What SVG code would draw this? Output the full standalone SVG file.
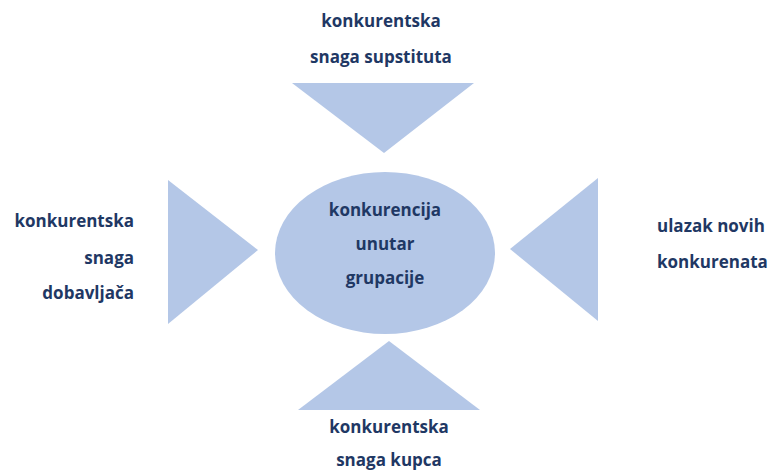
<svg xmlns="http://www.w3.org/2000/svg" width="770" height="471" viewBox="0 0 770 471">
<style>
.s{fill:#B4C7E7;stroke:none}
.t{font-family:"Open Sans","Liberation Sans",sans-serif;font-weight:700;font-size:17px;fill:#1F3864}
.m{text-anchor:middle}
.e{text-anchor:end}
</style>
<rect width="770" height="471" fill="#ffffff"/>
<g id="connectors">
<polygon id="arrow-top" class="s" points="292,83 474,83 384,153"/>
<polygon id="arrow-left" class="s" points="168,180 168,324 258,250"/>
<polygon id="arrow-right" class="s" points="598,178 598,321 510,249"/>
<polygon id="arrow-bottom" class="s" points="298,410 480,410 389,341"/>
</g>
<g id="center">
<ellipse class="s" cx="385" cy="253" rx="110" ry="81"/>
<text class="t m" x="385" y="216">konkurencija</text>
<text class="t m" x="385" y="250">unutar</text>
<text class="t m" x="385" y="284">grupacije</text>
</g>
<g id="top">
<text class="t m" x="381" y="27">konkurentska</text>
<text class="t m" x="381" y="63">snaga supstituta</text>
</g>
<g id="left">
<text class="t e" x="134" y="227">konkurentska</text>
<text class="t e" x="134" y="264">snaga</text>
<text class="t e" x="134" y="299">dobavljača</text>
</g>
<g id="right">
<text class="t" x="657" y="232">ulazak novih</text>
<text class="t" x="657" y="268">konkurenata</text>
</g>
<g id="bottom">
<text class="t m" x="389" y="433">konkurentska</text>
<text class="t m" x="389" y="466">snaga kupca</text>
</g>
</svg>
